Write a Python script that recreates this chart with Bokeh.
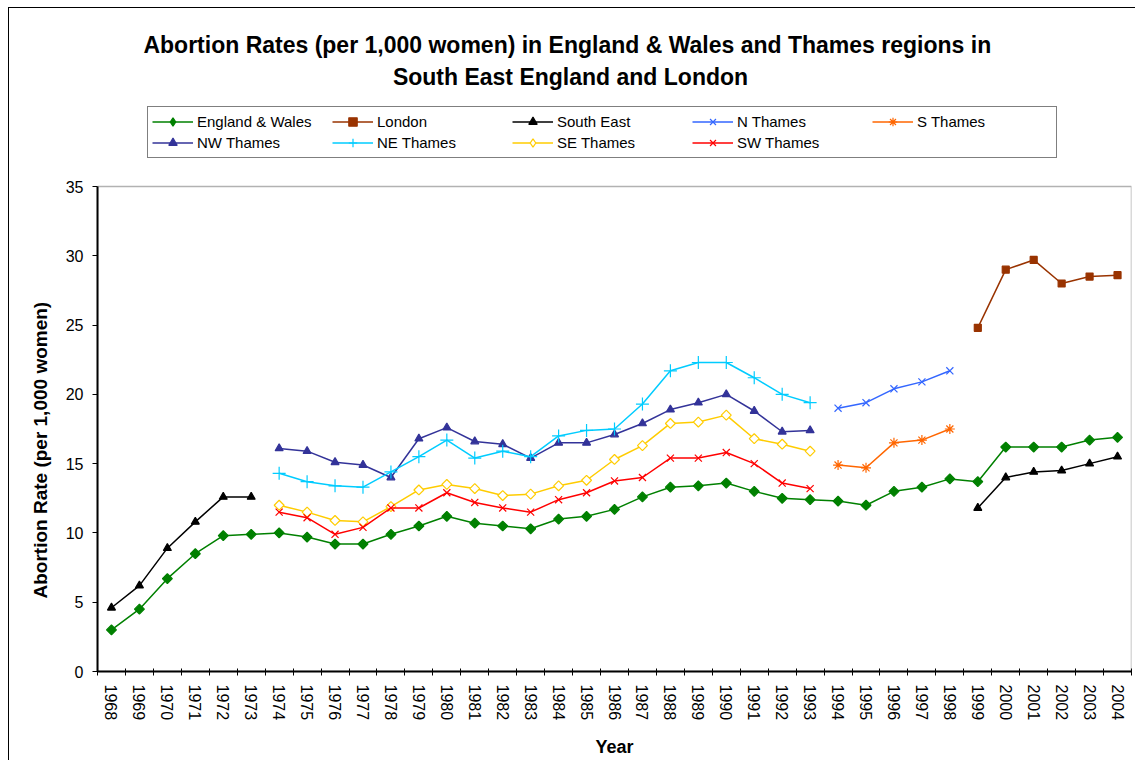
import numpy as np
from bokeh.plotting import figure
from bokeh.models import (Range1d, FixedTicker, Legend, LegendItem, Label,
                          BoxAnnotation, Title)
from bokeh.embed import file_html
from bokeh.resources import INLINE

years = list(range(1968, 2005))

england_wales = [3.0, 4.5, 6.7, 8.5, 9.8, 9.9, 10.0, 9.7, 9.2, 9.2,
                 9.9, 10.5, 11.2, 10.7, 10.5, 10.3, 11.0, 11.2, 11.7, 12.6,
                 13.3, 13.4, 13.6, 13.0, 12.5, 12.4, 12.3, 12.0, 13.0, 13.3,
                 13.9, 13.7, 16.2, 16.2, 16.2, 16.7, 16.9]
london = [None] * 31 + [24.8, 29.0, 29.7, 28.0, 28.5, 28.6]
south_east = ([4.6, 6.2, 8.9, 10.8, 12.6, 12.6] + [None] * 25 +
              [11.8, 14.0, 14.4, 14.5, 15.0, 15.5])
n_thames = [None] * 26 + [19.0, 19.4, 20.4, 20.9, 21.7] + [None] * 6
s_thames = [None] * 26 + [14.9, 14.7, 16.5, 16.7, 17.5] + [None] * 6
nw_thames = ([None] * 6 +
             [16.1, 15.9, 15.1, 14.9, 14.0, 16.8, 17.6, 16.6, 16.4, 15.4,
              16.5, 16.5, 17.1, 17.9, 18.9, 19.4, 20.0, 18.8, 17.3, 17.4] +
             [None] * 11)
ne_thames = ([None] * 6 +
             [14.3, 13.7, 13.4, 13.3, 14.4, 15.5, 16.7, 15.4, 15.9, 15.5,
              17.0, 17.4, 17.5, 19.3, 21.7, 22.3, 22.3, 21.2, 20.0, 19.4] +
             [None] * 11)
se_thames = ([None] * 6 +
             [12.0, 11.5, 10.9, 10.8, 11.9, 13.1, 13.5, 13.2, 12.7, 12.8,
              13.4, 13.8, 15.3, 16.3, 17.9, 18.0, 18.5, 16.8, 16.4, 15.9] +
             [None] * 11)
sw_thames = ([None] * 6 +
             [11.5, 11.1, 9.9, 10.4, 11.8, 11.8, 12.9, 12.2, 11.8, 11.5,
              12.4, 12.9, 13.75, 14.0, 15.4, 15.4, 15.8, 15.0, 13.6, 13.2] +
             [None] * 11)

series_names = ["England & Wales", "London", "South East", "N Thames", "S Thames",
                "NW Thames", "NE Thames", "SE Thames", "SW Thames"]
series_values = [england_wales, london, south_east, n_thames, s_thames,
                 nw_thames, ne_thames, se_thames, sw_thames]
y_ticks = [0, 5, 10, 15, 20, 25, 30, 35]
y_max = 35

title_line1 = "Abortion Rates (per 1,000 women)  in England & Wales and Thames regions in"
title_line2 = "South East England and London"
x_title = "Year"
y_title = "Abortion Rate (per 1,000 women)"

# styles: color, plot marker, size, fill, angle, legend marker
styles = [
    ("#008000", "square", 7, "#008000", np.pi / 4, "diamond"),
    ("#993300", "square", 7, "#993300", 0.0, None),
    ("#000000", "triangle", 8, "#000000", 0.0, None),
    ("#3366FF", "x", 10, None, 0.0, None),
    ("#FF6600", "asterisk", 10, None, 0.0, None),
    ("#333399", "triangle", 8, "#333399", 0.0, None),
    ("#00CCFF", "cross", 13, None, 0.0, None),
    ("#FFCC00", "square", 7, "white", np.pi / 4, "diamond"),
    ("#FF0000", "x", 10, None, 0.0, None),
]

FONT = "Liberation Sans"

AXIS_H = 485      # pixel height of the 0..35 plot area
FRAME_H = 663     # frame extends up to the top to host title and legend

p = figure(frame_width=1034, frame_height=FRAME_H,
           min_border_left=88, min_border_right=4,
           min_border_top=0, min_border_bottom=88,
           x_range=Range1d(years[0] - 0.5, years[-1] + 0.5),
           y_range=Range1d(0, y_max * FRAME_H / AXIS_H),
           output_backend="svg", toolbar_location=None, title=None)
p.margin = (7, 0, 0, 8)
p.styles = {"border-left": "1px solid black", "border-top": "1px solid black"}
p.background_fill_color = "white"
p.border_fill_color = "white"
p.outline_line_color = None
p.xgrid.visible = False
p.ygrid.visible = False

# plot-area border
p.add_layout(BoxAnnotation(left=years[0] - 0.5, right=years[-1] + 0.5, bottom=0, top=y_max,
                           fill_alpha=0, line_color="black", line_width=1.5, level="underlay"))

items = []
for name, vals, (color, marker, size, fill, angle, leg_marker) in zip(series_names, series_values, styles):
    arr = np.array([np.nan if v is None else v for v in vals], dtype=float)
    l = p.line(years, arr, line_color=color, line_width=1.5)
    s = p.scatter(years, arr, marker=marker, size=size, angle=angle,
                  line_color=color, fill_color=fill, line_width=1.2)
    if leg_marker is None:
        rends = [l, s]
    else:
        # legend sample only (a single NaN point, never drawn in the plot)
        ls = p.scatter([np.nan], [np.nan], marker=leg_marker, size=10,
                       line_color=color, fill_color=fill, line_width=1.2)
        rends = [l, ls]
    items.append(LegendItem(label=name, renderers=rends))

legend = Legend(items=items, location=(50, 513), orientation="horizontal", ncols=5,
                glyph_width=41, glyph_height=21, label_height=21, label_width=135,
                label_standoff=4, spacing=0, padding=4, margin=0,
                border_line_color="black", border_line_width=1,
                background_fill_color="white", background_fill_alpha=1.0,
                label_text_font=FONT, label_text_font_size="15px",
                label_text_color="black")
p.add_layout(legend, "center")

for txt, yy in [(title_line1, 627), (title_line2, 595)]:
    p.add_layout(Label(x=473, y=yy, x_units="screen", y_units="screen", text=txt,
                       text_align="center", text_baseline="middle",
                       text_font=FONT, text_font_size="23px",
                       text_font_style="bold", text_color="black"))

xa = p.xaxis[0]
xa.ticker = FixedTicker(ticks=years, minor_ticks=[y - 0.5 for y in years] + [years[-1] + 0.5])
xa.major_label_overrides = {y: str(y) for y in years}
xa.major_label_orientation = "vertical"
xa.major_tick_line_color = None
xa.major_tick_in = 0
xa.major_tick_out = 0
xa.minor_tick_line_color = "black"
xa.minor_tick_in = 3
xa.minor_tick_out = 4
xa.major_label_standoff = 9
xa.axis_label = x_title
xa.axis_label_standoff = 14
xa.axis_label_text_font_size = "18px"

ya = p.yaxis[0]
ya.ticker = FixedTicker(ticks=y_ticks)
ya.bounds = (0, y_max)
ya.major_tick_in = 0
ya.major_tick_out = 5
ya.major_tick_line_color = "black"
ya.minor_tick_line_color = None
ya.major_label_standoff = 9

for ax in (xa, ya):
    ax.axis_line_color = "black"
    ax.axis_line_width = 2
    ax.major_label_text_font = FONT
    ax.major_label_text_font_size = "16px"
    ax.major_label_text_color = "black"
    ax.axis_label_text_font = FONT
    ax.axis_label_text_font_style = "bold"
    ax.axis_label_text_color = "black"

# y title as a side-panel title so that its vertical position can be set
p.add_layout(Title(text=y_title, align="left", offset=73, standoff=24,
                   text_font=FONT, text_font_size="19px", text_font_style="bold",
                   text_color="black"), "left")

open("out.html", "w").write(file_html(p, INLINE))
